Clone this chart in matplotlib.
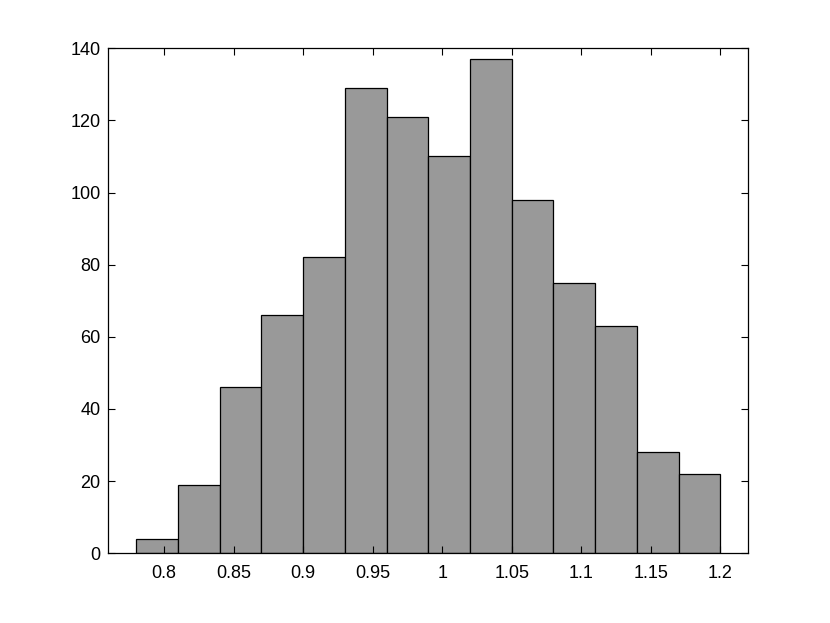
import numpy as np
import matplotlib
matplotlib.use("Agg")
import matplotlib.pyplot as plt

plt.rcParams['font.family'] = ['Liberation Sans', 'DejaVu Sans']

# histogram bins (edges) and counts
edges = [0.78, 0.81, 0.84, 0.87, 0.90, 0.93, 0.96, 0.99, 1.02, 1.05, 1.08, 1.11, 1.14, 1.17, 1.20]
counts = [4, 19, 46, 66, 82, 129, 121, 110, 137, 98, 75, 63, 28, 22]
xticks = [0.8, 0.85, 0.9, 0.95, 1.0, 1.05, 1.1, 1.15, 1.2]
xticklabels = ['0.8', '0.85', '0.9', '0.95', '1', '1.05', '1.1', '1.15', '1.2']
yticks = [0, 20, 40, 60, 80, 100, 120, 140]

fig = plt.figure(figsize=(8.3, 6.23), dpi=100)
ax = fig.add_axes([0.1305, 0.1119, 0.771, 0.8106])

e = np.array(edges)
ax.bar(e[:-1], counts, width=np.diff(e), align='edge',
       color='#999999', edgecolor='black', linewidth=0.9)

ax.set_xlim(0.76, 1.22)
ax.set_ylim(0, 140)
ax.set_xticks(xticks)
ax.set_xticklabels(xticklabels)
ax.set_yticks(yticks)
ax.tick_params(direction='in', top=True, right=True, length=5, width=0.8,
               labelsize=13)
ax.tick_params(axis='x', pad=8.5)
ax.tick_params(axis='y', pad=5.5)
for s in ax.spines.values():
    s.set_linewidth(0.9)

fig.savefig("out.png", dpi=100)
